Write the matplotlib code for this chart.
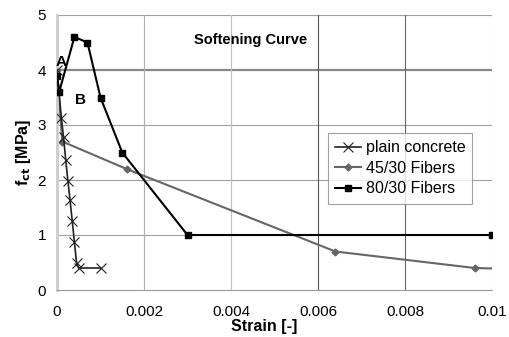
import matplotlib
matplotlib.use("Agg")
import matplotlib.pyplot as plt
from matplotlib.ticker import FixedLocator

plt.rcParams["font.family"] = ["Liberation Sans", "DejaVu Sans"]

# === Data ===
plain_x = [0, 0.0001, 0.00015, 0.0002, 0.00025, 0.0003, 0.00035, 0.0004, 0.00045, 0.0005, 0.001]
plain_y = [4.0, 3.13, 2.78, 2.37, 1.99, 1.63, 1.26, 0.87, 0.49, 0.40, 0.40]

f45_x = [0, 0.00012, 0.0016, 0.0064, 0.0096, 0.0105]
f45_y = [4.0, 2.7, 2.2, 0.7, 0.4, 0.38]

f80_x = [0, 0.00005, 0.0004, 0.0007, 0.001, 0.0015, 0.003, 0.01]
f80_y = [3.9, 3.6, 4.6, 4.5, 3.5, 2.5, 1.0, 1.0]

x_ticks = [0, 0.002, 0.004, 0.006, 0.008, 0.01]
x_tick_labels = ["0", "0.002", "0.004", "0.006", "0.008", "0.01"]
y_ticks = [0, 1, 2, 3, 4, 5]

fig = plt.figure(figsize=(5.09, 3.37), dpi=100)
ax = fig.add_axes([57 / 509, 1 - 290 / 337, 435 / 509, 275 / 337])

# grid
for yv in y_ticks[1:]:
    ax.axhline(yv, color="#888888" if yv == 4 else "#a0a0a0",
               lw=1.6 if yv == 4 else 0.8, zorder=0)
grid_cols = {0.002: "#b0b0b0", 0.004: "#c0c0c0", 0.006: "#555555", 0.008: "#666666", 0.01: "#c0c0c0"}
for xv, c in grid_cols.items():
    ax.axvline(xv, color=c, lw=0.8, zorder=0)

ax.plot(plain_x, plain_y, color="#222222", lw=1.2, marker="x", ms=7, mew=0.8,
        label="plain concrete", zorder=3)
ax.plot(f45_x, f45_y, color="#666666", lw=1.5, marker="D", ms=3.5,
        label="45/30 Fibers", zorder=2)
ax.plot(f80_x, f80_y, color="black", lw=1.5, marker="s", ms=5,
        label="80/30 Fibers", zorder=4)

ax.set_xlim(0, 0.01)
ax.set_ylim(0, 5)
ax.xaxis.set_major_locator(FixedLocator(x_ticks))
ax.set_xticklabels(x_tick_labels)
ax.set_yticks(y_ticks)
ax.tick_params(length=0, labelsize=11)
ax.tick_params(axis="x", pad=11)
ax.tick_params(axis="y", pad=8)

for s in ["top", "right"]:
    ax.spines[s].set_visible(False)
ax.spines["left"].set_color("#cccccc")
ax.spines["left"].set_linewidth(2)
ax.spines["bottom"].set_color("#999999")
ax.spines["bottom"].set_linewidth(0.8)

ax.set_xlabel("Strain [-]", fontsize=11.5, fontweight="bold")
ax.xaxis.set_label_coords((264 - 57) / 435, -(334 - 290) / 275)
ax.xaxis.label.set_va("bottom")
ax.set_ylabel("f$_{\\mathbf{ct}}$ [MPa]", fontsize=11.5, fontweight="bold", labelpad=3)

ax.text(0.00444, 4.55, "Softening Curve", fontsize=10.5, fontweight="bold", ha="center", va="center")
ax.text(0.0001, 4.15, "A", fontsize=11, fontweight="bold", ha="center", va="center")
ax.text(0.00055, 3.45, "B", fontsize=11, fontweight="bold", ha="center", va="center")

leg = ax.legend(loc="upper left", bbox_to_anchor=((328 - 57) / 435, 1 - (133 - 15) / 275),
                borderaxespad=0, fontsize=11.5, frameon=True, fancybox=False,
                handlelength=1.6, handletextpad=0.3, borderpad=0.45, labelspacing=0.35)
leg.get_frame().set_edgecolor("#888888")
leg.get_frame().set_linewidth(0.8)

fig.savefig("out.png", dpi=100)
